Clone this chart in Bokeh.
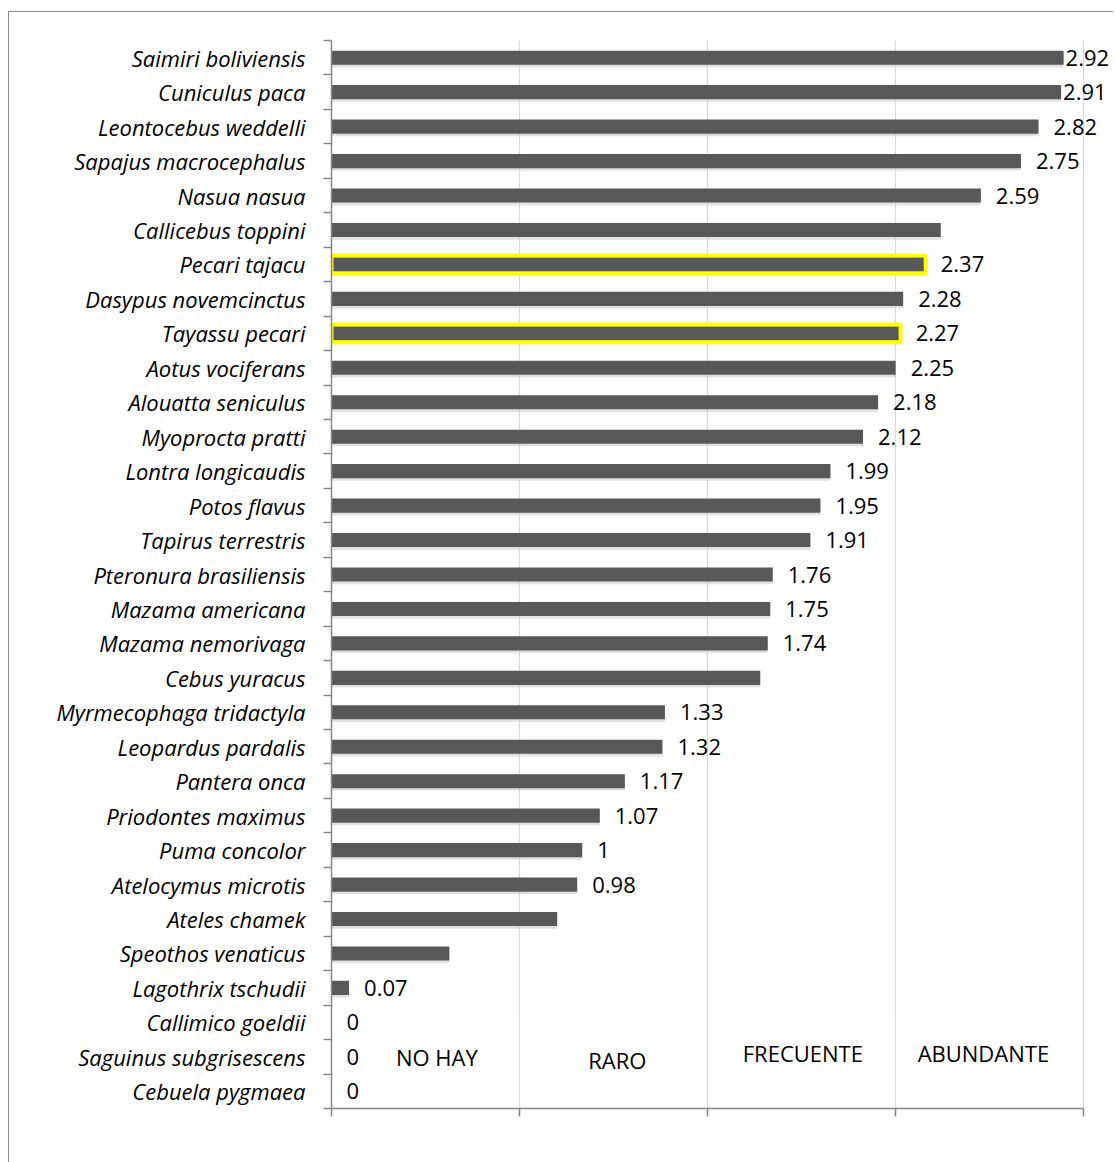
from bokeh.plotting import figure
from bokeh.models import ColumnDataSource, FixedTicker, LabelSet
from bokeh.core.properties import value
from bokeh.embed import file_html
from bokeh.resources import INLINE

# ---- data (top to bottom as in the chart) ----
species = [
    "Saimiri boliviensis", "Cuniculus paca", "Leontocebus weddelli", "Sapajus macrocephalus",
    "Nasua nasua", "Callicebus toppini", "Pecari tajacu", "Dasypus novemcinctus",
    "Tayassu pecari", "Aotus vociferans", "Alouatta seniculus", "Myoprocta pratti",
    "Lontra longicaudis", "Potos flavus", "Tapirus terrestris", "Pteronura brasiliensis",
    "Mazama americana", "Mazama nemorivaga", "Cebus yuracus", "Myrmecophaga tridactyla",
    "Leopardus pardalis", "Pantera onca", "Priodontes maximus", "Puma concolor",
    "Atelocymus microtis", "Ateles chamek", "Speothos venaticus", "Lagothrix tschudii",
    "Callimico goeldii", "Saguinus subgrisescens", "Cebuela pygmaea",
]
values = [
    2.92, 2.91, 2.82, 2.75, 2.59, 2.43, 2.37, 2.28, 2.27, 2.25, 2.18, 2.12, 1.99, 1.95,
    1.91, 1.76, 1.75, 1.74, 1.71, 1.33, 1.32, 1.17, 1.07, 1.0, 0.98, 0.90, 0.47, 0.07,
    0.0, 0.0, 0.0,
]
# data labels shown in the chart ("" = no label)
value_labels = [
    "2.92", "2.91", "2.82", "2.75", "2.59", "", "2.37", "2.28", "2.27", "2.25", "2.18",
    "2.12", "1.99", "1.95", "1.91", "1.76", "1.75", "1.74", "", "1.33", "1.32", "1.17",
    "1.07", "1", "0.98", "", "", "0.07", "0", "0", "0",
]
highlighted = ["Pecari tajacu", "Tayassu pecari"]
zone_labels = ["NO HAY", "RARO", "FRECUENTE", "ABUNDANTE"]
zone_centers = [0.42, 1.14, 1.88, 2.60]
zone_row = "Saguinus subgrisescens"
x_ticks = [0, 0.75, 1.5, 2.25, 3.0]

FONT = "Open Sans"
FSIZE = "22px"

n = len(species)
ypos = [n - i for i in range(n)]
label_offsets = [2 if v > 2.9 else 15 for v in values]

src = ColumnDataSource(dict(y=ypos, v=values, name=species, lab=value_labels, off=label_offsets))
shadow_src = ColumnDataSource(dict(y=[y - 0.07 for y in ypos], v=values))
hl_idx = [species.index(s) for s in highlighted]
hl_src = ColumnDataSource(dict(y=[ypos[i] for i in hl_idx], v=[values[i] for i in hl_idx]))
zy = ypos[species.index(zone_row)]
zone_src = ColumnDataSource(dict(x=zone_centers, y=[zy + 0.0, zy - 0.08, zy + 0.1, zy + 0.12],
                                 t=zone_labels))

W, H = 1105, 1151
p = figure(width=W, height=H, output_backend="svg", toolbar_location=None,
           x_range=(0, 3.115), y_range=(0.5, n + 0.5),
           min_border_left=322, min_border_right=2,
           min_border_top=28, min_border_bottom=H - (1107 - 11))
p.styles = {"margin-left": "8px", "margin-top": "11px",
            "border-left": "1.5px solid #8c8c8c", "border-top": "1.5px solid #8c8c8c"}
p.outline_line_color = None
p.background_fill_color = "white"
p.border_fill_color = "white"

# grid
p.ygrid.grid_line_color = None
p.xgrid.ticker = FixedTicker(ticks=x_ticks)
p.xgrid.grid_line_color = "#d9d9d9"
p.xgrid.grid_line_width = 1.2

# x axis: ticks only, no labels
p.xaxis.ticker = FixedTicker(ticks=x_ticks)
p.xaxis.bounds = (0, 3.0)
p.xaxis.major_label_overrides = {t: "" for t in x_ticks}
p.xaxis.major_label_text_font_size = "1px"
p.xaxis.major_tick_in = 0
p.xaxis.major_tick_out = 8
p.xaxis.minor_tick_line_color = None
p.xaxis.axis_line_color = "#868686"
p.xaxis.major_tick_line_color = "#868686"
p.xaxis.axis_line_width = 1.5
p.xaxis.major_tick_line_width = 1.5

# y axis: labels at centers, ticks at category boundaries (minor)
p.yaxis.ticker = FixedTicker(ticks=ypos, minor_ticks=[k + 0.5 for k in range(n + 1)])
p.yaxis.major_label_overrides = {y: s for y, s in zip(ypos, species)}
p.yaxis.major_tick_out = 0
p.yaxis.major_tick_in = 0
p.yaxis.minor_tick_out = 8
p.yaxis.minor_tick_in = 0
p.yaxis.minor_tick_line_color = "#868686"
p.yaxis.minor_tick_line_width = 1.5
p.yaxis.axis_line_color = "#868686"
p.yaxis.axis_line_width = 1.5
p.yaxis.major_label_standoff = 18
p.yaxis.major_label_text_font = FONT
p.yaxis.major_label_text_font_style = "italic"
p.yaxis.major_label_text_font_size = FSIZE
p.yaxis.major_label_text_color = "black"

# soft shadow under bars
p.hbar(y="y", right="v", left=0, height=0.42, source=shadow_src,
       fill_color="#c8c8c8", fill_alpha=0.55, line_color=None)

# bars
p.hbar(y="y", right="v", left=0, height=0.41, source=src,
       fill_color="#585858", line_color=None)

# highlight boxes
p.hbar(y="y", right="v", left=0, height=0.52, source=hl_src,
       fill_color=None, line_color="#ffff00", line_width=4)

# value labels
p.add_layout(LabelSet(x="v", y="y", text="lab", source=src, x_offset="off", y_offset=0,
                      text_font=value(FONT), text_font_size=FSIZE, text_color="black",
                      text_baseline="middle", text_align="left"))

# zone labels
p.text(x="x", y="y", text="t", source=zone_src, text_font=value(FONT),
       text_font_size=FSIZE, text_color="black", text_align="center",
       text_baseline="middle")

open("out.html", "w").write(file_html(p, INLINE))
